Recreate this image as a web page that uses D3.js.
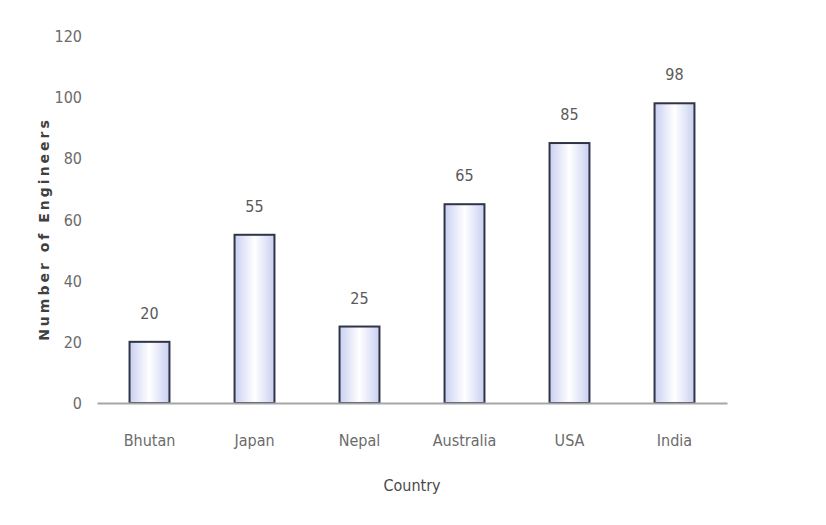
<!DOCTYPE html>
<html><head><meta charset="utf-8">
<script src="https://cdn.jsdelivr.net/npm/d3@7"></script>
<style>body{margin:0;background:#fff}svg{display:block}</style>
</head><body>
<svg id="c" width="826" height="525"></svg>
<script>
const categories = ["Bhutan","Japan","Nepal","Australia","USA","India"];
const values = [20,55,25,65,85,98];
const yTicks = [0,20,40,60,80,100,120];
const yTitle = "Number of Engineers";
const xTitle = "Country";

const svg = d3.select("#c");
const narrow = "'Liberation Sans Narrow','DejaVu Sans Condensed',sans-serif";
const x = d3.scaleBand().domain(categories).range([97,727]).paddingInner(0.62).paddingOuter(0.31);
const y = d3.scaleLinear().domain([0,120]).range([403,36]);

const defs = svg.append("defs");
const g = defs.append("linearGradient").attr("id","bg").attr("x1","0").attr("x2","1").attr("y1","0").attr("y2","0");
g.append("stop").attr("offset","0").attr("stop-color","#c9d0f1");
g.append("stop").attr("offset","0.5").attr("stop-color","#ffffff");
g.append("stop").attr("offset","1").attr("stop-color","#c9d0f1");

// y axis labels
const ya = svg.append("g").attr("transform","translate(82,0)")
  .call(d3.axisLeft(y).tickValues(yTicks).tickSize(0).tickPadding(0).tickFormat(d3.format("d")));
ya.select(".domain").remove();
ya.selectAll("text").attr("font-family",narrow).attr("font-size",16).attr("fill","#6b6b6b").attr("dy","0.35em");

// bars
svg.append("g").selectAll("rect").data(values).join("rect")
  .attr("x",(d,i)=>x(categories[i])).attr("width",x.bandwidth())
  .attr("y",d=>y(d)).attr("height",d=>y(0)-y(d))
  .attr("fill","url(#bg)").attr("stroke","#2f3447").attr("stroke-width",2);

// value labels
svg.append("g").selectAll("text").data(values).join("text")
  .attr("x",(d,i)=>x(categories[i])+x.bandwidth()/2).attr("y",d=>y(d)-23)
  .attr("text-anchor","middle").attr("font-family",narrow).attr("font-size",16).attr("fill","#5a5a5a")
  .text(d=>d);

// x axis
const xa = svg.append("g").attr("transform","translate(0,403)")
  .call(d3.axisBottom(x).tickSize(0).tickPadding(32));
xa.select(".domain").attr("stroke","#a6a6a6").attr("stroke-width",2);
xa.selectAll("text").attr("font-family",narrow).attr("font-size",16).attr("fill","#6b6b6b");

svg.append("text").attr("x",412).attr("y",491).attr("text-anchor","middle")
  .attr("font-family",narrow).attr("font-size",16).attr("fill","#4a4a4a").text(xTitle);

svg.append("text").attr("transform","translate(49,229) rotate(-90)").attr("text-anchor","middle")
  .attr("font-family","'DejaVu Sans',sans-serif").attr("font-weight","bold").attr("font-size",14)
  .attr("letter-spacing",3).attr("fill","#404040").text(yTitle);
</script>
</body></html>
